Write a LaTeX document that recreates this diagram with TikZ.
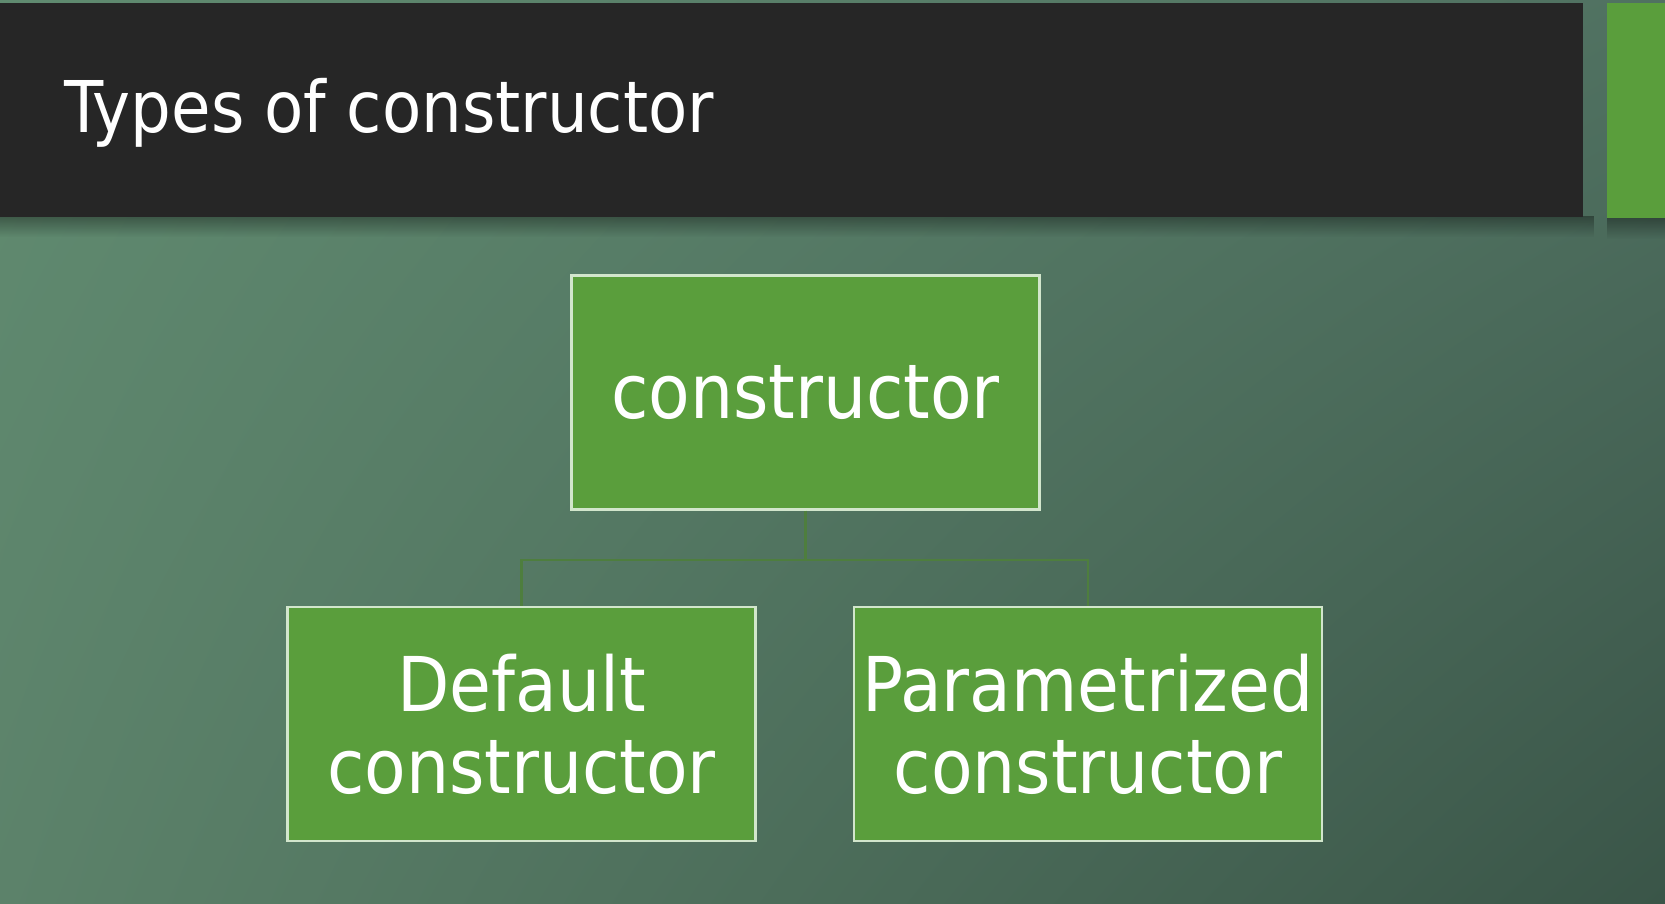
\documentclass[tikz,border=0pt]{standalone}
\usepackage{fontspec}
\setmainfont{DejaVu Sans Condensed}
\usetikzlibrary{calc, shadings, fadings}

\definecolor{boxgreen}{HTML}{5A9E3C}
\definecolor{barblack}{HTML}{262626}
\definecolor{linkgreen}{HTML}{4E7E3E}
\definecolor{rimwhite}{HTML}{D2E6CC}
\definecolor{bgUL}{RGB}{96,139,112}
\definecolor{bgUR}{RGB}{80,113,97}
\definecolor{bgLL}{RGB}{92,130,106}
\definecolor{bgLR}{RGB}{58,85,72}

\tikzset{
  typebox/.style={draw=rimwhite, line width=0.6pt, fill=boxgreen, text=white,
    minimum width=4.68cm, minimum height=2.34cm, align=center,
    font=\fontsize{21.5}{23.4}\selectfont, inner sep=0pt},
  link/.style={draw=linkgreen, line width=0.6pt}
}

\begin{document}
\begin{tikzpicture}
\def\picW{16.65}
\def\picH{9.03}

%background
\useasboundingbox (0,0) rectangle (\picW,\picH);
\shade[upper left=bgUL, upper right=bgUR, lower left=bgLL, lower right=bgLR]
  (0,0) rectangle (\picW,\picH);

%title bar
\fill[black, opacity=0.35, path fading=south] (0,6.66) rectangle (15.95,6.87);
\fill[black, opacity=0.35, path fading=south] (16.07,6.64) rectangle (\picW,6.86);
\fill[barblack] (0,6.864) rectangle (15.83,8.998);
\fill[boxgreen] (16.07,6.85) rectangle (\picW,8.998);
\node[anchor=base west, text=white, font=\fontsize{20.3}{24}\selectfont, inner sep=0pt]
  (title) at (0.64,7.70) {Types of constructor};

%boxes
\node[typebox] (ctor) at (8.055,5.105) {constructor};
\node[typebox] (default) at (5.215,1.79) {Default\\constructor};
\node[typebox] (param) at (10.88,1.79) {Parametrized\\constructor};

%draw edges
\coordinate (mid) at (ctor.south |- 0,3.43);
\draw[link] (ctor.south) -- (mid);
\draw[link] (default.north) -- (default.north |- mid) -- (param.north |- mid) -- (param.north);

\end{tikzpicture}
\end{document}
